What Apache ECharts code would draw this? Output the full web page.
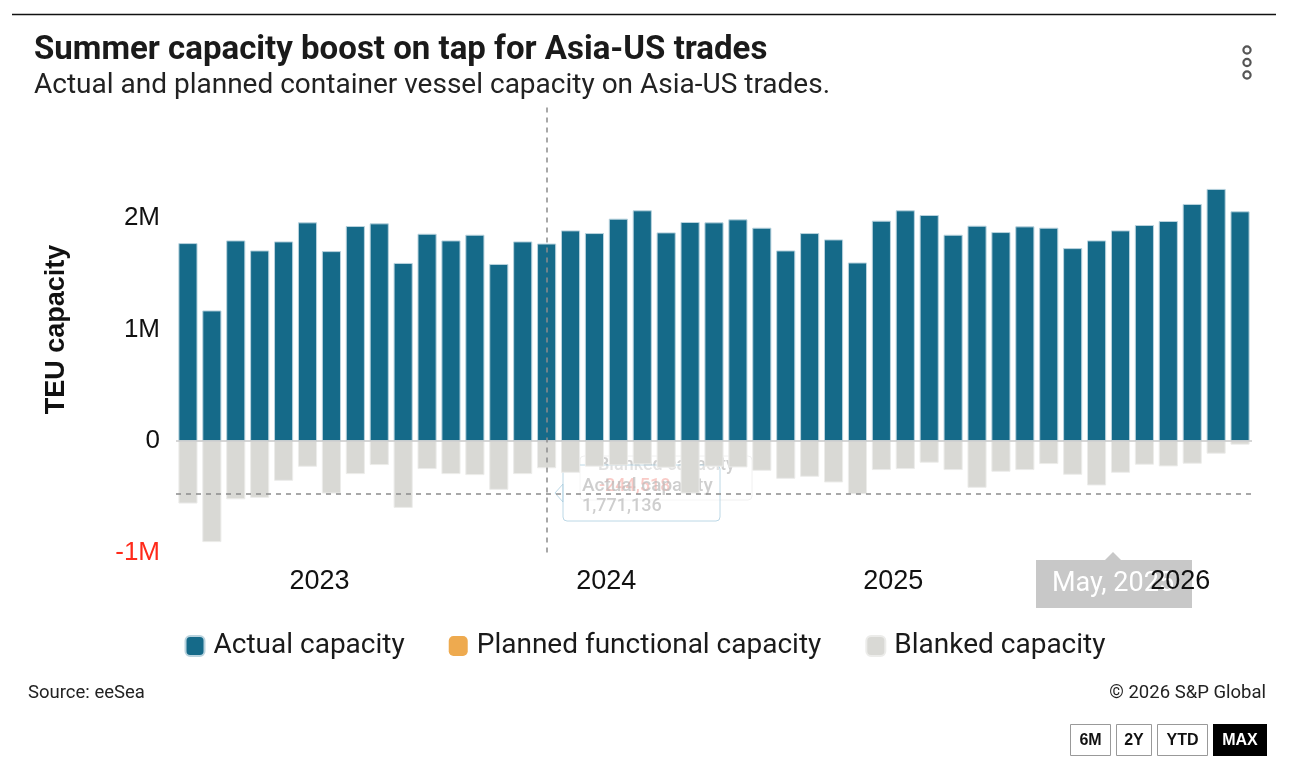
<!DOCTYPE html>
<html>
<head>
<meta charset="utf-8">
<title>Summer capacity boost on tap for Asia-US trades</title>
<script src="https://cdn.jsdelivr.net/npm/echarts@6/dist/echarts.min.js"></script>
<style>
  html, body { margin: 0; padding: 0; background: #fff; }
  #chart_1 { width: 1290px; height: 771px; }
</style>
</head>
<body>
<div id="chart_1"></div>
<script>
// months shown on the x axis (Jul 2022 - Mar 2026)
var monthNames = ['Jan', 'Feb', 'Mar', 'Apr', 'May', 'Jun', 'Jul', 'Aug', 'Sep', 'Oct', 'Nov', 'Dec'];
var months = [];
for (var m = 6; m < 6 + 45; m++) {
    months.push(monthNames[m % 12] + ' ' + (2022 + Math.floor(m / 12)));
}

// TEU capacity
var actualCapacity = [1775000, 1171000, 1799000, 1709000, 1790000, 1961000, 1703000, 1928000, 1952000, 1597000,
    1859000, 1799000, 1850000, 1588000, 1790000, 1771136, 1889000, 1865000, 1994000, 2069000,
    1871000, 1964000, 1961000, 1988000, 1913000, 1709000, 1865000, 1808000, 1601000, 1976000,
    2069000, 2027000, 1850000, 1931000, 1874000, 1925000, 1913000, 1730000, 1799000, 1889000,
    1937000, 1973000, 2126000, 2261000, 2060000];
var plannedCapacity = [];
var blankedCapacity = [-561000, -907000, -523000, -510000, -357000, -231000, -471000, -297000, -216000, -600000,
    -252000, -297000, -306000, -438000, -297000, -244518, -285000, -230000, -220000, -210000,
    -240000, -471000, -230000, -237000, -267000, -339000, -321000, -372000, -477000, -261000,
    -252000, -195000, -261000, -420000, -276000, -261000, -207000, -303000, -399000, -285000,
    -213000, -228000, -204000, -114000, -33000];
var yTicks = [-1000000, 0, 1000000, 2000000];

var hoverIndex = 15;
var pointerValue = -470000;

var fontUi = 'Roboto, "Noto Sans", sans-serif';
var fontAxis = '"Liberation Sans", Arial, sans-serif';

var myChart = echarts.init(document.getElementById('chart_1'));

var option = {
    backgroundColor: '#fff',
    animation: false,
    title: {
        text: 'Summer capacity boost on tap for Asia-US trades',
        subtext: 'Actual and planned container vessel capacity on Asia-US trades.',
        left: 29,
        top: 29,
        itemGap: 5,
        textStyle: { fontFamily: fontUi, fontSize: 33, fontWeight: 'bold', color: '#1a1a1a' },
        subtextStyle: { fontFamily: fontUi, fontSize: 28, color: '#222' }
    },
    legend: {
        top: 627,
        left: 'center',
        itemGap: 44,
        itemWidth: 19,
        itemHeight: 20,
        icon: 'roundRect',
        selectedMode: false,
        textStyle: { fontFamily: fontUi, fontSize: 28, color: '#1a1a1a', padding: [0, 0, 0, 4] },
        data: ['Actual capacity', 'Planned functional capacity', 'Blanked capacity']
    },
    grid: { left: 176, right: 38, top: 106.5, bottom: 218.5 },
    xAxis: {
        type: 'category',
        data: months,
        axisLine: { show: false, onZero: false },
        axisTick: { show: false },
        axisLabel: {
            interval: function (index, value) { return value.indexOf('Jan') === 0; },
            margin: 16,
            formatter: function (value) { return '{y|' + value.split(' ')[1] + '}'; },
            rich: {
                y: { fontFamily: fontAxis, fontSize: 27, color: '#111', padding: [0, 24, 0, 0] }
            }
        }
    },
    yAxis: {
        type: 'value',
        min: yTicks[0],
        max: 3000000,
        interval: 1000000,
        name: 'TEU capacity',
        nameLocation: 'middle',
        nameGap: 106,
        nameTextStyle: { fontFamily: fontAxis, fontSize: 27, fontWeight: 'bold', color: '#111' },
        splitLine: { show: false },
        axisLine: { show: false },
        axisTick: { show: false },
        axisLabel: {
            showMaxLabel: false,
            margin: 16,
            fontFamily: fontAxis,
            fontSize: 26,
            color: function (value) { return value < 0 ? '#ff2a1a' : '#111'; },
            formatter: function (value) {
                if (yTicks.indexOf(value) < 0) return '';
                return value === 0 ? '0' : (value / 1000000) + 'M';
            }
        }
    },
    series: [
        {
            name: 'Actual capacity',
            type: 'bar',
            stack: 'cap',
            barCategoryGap: '20%',
            data: actualCapacity,
            itemStyle: { color: '#156a89', borderColor: '#b9d3de', borderWidth: 1 },
            markLine: {
                silent: true,
                symbol: 'none',
                label: { show: false },
                data: [
                    { yAxis: 0, lineStyle: { color: '#c9c9c9', width: 1.5, type: 'solid' } },
                    { xAxis: months[hoverIndex], lineStyle: { color: '#8c8c8c', width: 1.5, type: [5, 5] } },
                    { yAxis: pointerValue, lineStyle: { color: '#8c8c8c', width: 1.5, type: [5, 5] } }
                ]
            }
        },
        {
            name: 'Planned functional capacity',
            type: 'bar',
            stack: 'cap',
            data: plannedCapacity,
            itemStyle: { color: '#eeaa4f' }
        },
        {
            name: 'Blanked capacity',
            type: 'bar',
            stack: 'cap',
            data: blankedCapacity,
            itemStyle: { color: '#d9d9d5', borderColor: '#ececea', borderWidth: 1 }
        }
    ],
    graphic: [
        { type: 'line', shape: { x1: 12, y1: 14.5, x2: 1276, y2: 14.5 }, style: { stroke: '#111', lineWidth: 1.5 } },
        // menu icon
        { type: 'circle', shape: { cx: 1247, cy: 50, r: 3.6 }, style: { fill: 'none', stroke: '#555', lineWidth: 2.2 } },
        { type: 'circle', shape: { cx: 1247, cy: 62.5, r: 3.6 }, style: { fill: 'none', stroke: '#555', lineWidth: 2.2 } },
        { type: 'circle', shape: { cx: 1247, cy: 75, r: 3.6 }, style: { fill: 'none', stroke: '#555', lineWidth: 2.2 } },
        // fading tooltips
        {
            type: 'group', z: 100,
            children: [
                { type: 'rect', shape: { x: 580, y: 456, width: 172, height: 44, r: 4 },
                  style: { fill: 'rgba(255,255,255,0.5)', stroke: 'rgba(230,230,230,0.6)', lineWidth: 1 } },
                { type: 'text', style: { x: 598, y: 465, text: 'Blanked capacity', font: '500 18px ' + fontUi, fill: 'rgba(190,190,190,0.75)', verticalAlign: 'middle' } },
                { type: 'text', style: { x: 599, y: 486, text: '-244,518', font: '500 18px ' + fontUi, fill: 'rgba(240,120,110,0.65)', verticalAlign: 'middle' } },
                { type: 'polygon', shape: { points: [[563, 484], [555, 493], [563, 502]] },
                  style: { fill: 'rgba(255,255,255,0.5)', stroke: 'rgba(160,200,220,0.7)', lineWidth: 1 } },
                { type: 'rect', shape: { x: 563, y: 465, width: 157, height: 56, r: 4 },
                  style: { fill: 'rgba(255,255,255,0.4)', stroke: 'rgba(160,200,220,0.7)', lineWidth: 1 } },
                { type: 'text', style: { x: 582, y: 486, text: 'Actual capacity', font: '500 19px ' + fontUi, fill: 'rgba(185,185,185,0.7)', verticalAlign: 'middle' } },
                { type: 'text', style: { x: 582, y: 506, text: '1,771,136', font: '500 18px ' + fontUi, fill: 'rgba(185,185,185,0.7)', verticalAlign: 'middle' } }
            ]
        },
        // axis pointer label ghost
        {
            type: 'group', z: -10,
            children: [
                { type: 'polygon', shape: { points: [[1105, 560], [1113, 552], [1121, 560]] }, style: { fill: '#c8c8c8' } },
                { type: 'rect', shape: { x: 1036, y: 560, width: 156, height: 48 }, style: { fill: '#c8c8c8' } },
                { type: 'text', style: { x: 1113, y: 584, text: 'May, 2025', font: '27px ' + fontUi, fill: '#fff', align: 'center', verticalAlign: 'middle' } }
            ]
        },
        // footer
        { type: 'text', style: { x: 28, y: 693, text: 'Source: eeSea', font: '18.5px ' + fontUi, fill: '#222', verticalAlign: 'middle' } },
        { type: 'text', style: { x: 1266, y: 693, text: '\u00a9 2026 S&P Global', font: '18.5px ' + fontUi, fill: '#222', align: 'right', verticalAlign: 'middle' } },
        // range buttons
        { type: 'rect', shape: { x: 1070.5, y: 724.5, width: 40, height: 31 }, style: { fill: '#fff', stroke: '#999', lineWidth: 1 } },
        { type: 'text', style: { x: 1090.5, y: 740.5, text: '6M', font: 'bold 16px ' + fontAxis, fill: '#111', align: 'center', verticalAlign: 'middle' } },
        { type: 'rect', shape: { x: 1116.5, y: 724.5, width: 35, height: 31 }, style: { fill: '#fff', stroke: '#999', lineWidth: 1 } },
        { type: 'text', style: { x: 1134, y: 740.5, text: '2Y', font: 'bold 16px ' + fontAxis, fill: '#111', align: 'center', verticalAlign: 'middle' } },
        { type: 'rect', shape: { x: 1157.5, y: 724.5, width: 50, height: 31 }, style: { fill: '#fff', stroke: '#999', lineWidth: 1 } },
        { type: 'text', style: { x: 1182.5, y: 740.5, text: 'YTD', font: 'bold 16px ' + fontAxis, fill: '#111', align: 'center', verticalAlign: 'middle' } },
        { type: 'rect', shape: { x: 1213, y: 724, width: 54, height: 32 }, style: { fill: '#000' } },
        { type: 'text', style: { x: 1240, y: 740.5, text: 'MAX', font: 'bold 16px ' + fontAxis, fill: '#fff', align: 'center', verticalAlign: 'middle' } }
    ]
};
myChart.setOption(option);
</script>
</body>
</html>
